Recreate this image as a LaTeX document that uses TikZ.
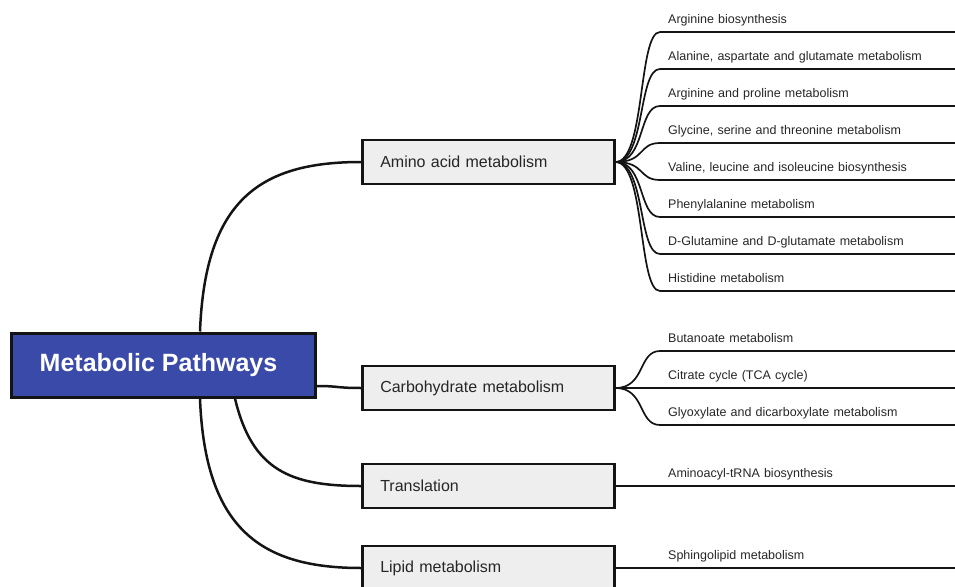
\documentclass[tikz,border=0pt]{standalone}
\usepackage{fontspec}
\setmainfont{Liberation Sans}
\definecolor{rootblue}{RGB}{58,74,168}
\definecolor{boxgray}{RGB}{238,238,238}
\definecolor{inkline}{RGB}{20,20,20}
\tikzset{
  rootbox/.style={draw=inkline, line width=3pt, fill=rootblue, text=white,
    font=\fontsize{25}{29}\selectfont\bfseries, minimum width=304pt,
    minimum height=64pt, inner sep=0pt},
  topicbox/.style={draw=inkline, line width=2.5pt, fill=boxgray, text=black!85,
    font=\fontsize{16}{19}\selectfont, text width=216pt, inner xsep=18pt,
    minimum height=44pt, align=left, anchor=west},
  leafitem/.style={anchor=south west, font=\fontsize{12.5}{15}\selectfont,
    text=black!85, text width=300pt, inner xsep=8pt, inner ysep=5.5pt, text depth=3pt},
  trunk/.style={draw=inkline, line width=2.5pt},
  twig/.style={draw=inkline, line width=1.7pt}
}
\begin{document}
\begin{tikzpicture}[x=1pt,y=-1pt]
  \useasboundingbox (0,0) rectangle (955,586);
  % main topic and the four groups
  \node[rootbox] (root) at (163,365) {\hspace*{-9pt}Metabolic Pathways};
  \node[topicbox] (amino) at (361,162) {Amino acid metabolism};
  \node[topicbox] (carb) at (361,388) {Carbohydrate metabolism};
  \node[topicbox] (transl) at (361,486) {Translation};
  \node[topicbox] (lipid) at (361,568) {Lipid metabolism};
  \draw[trunk] ([xshift=37pt]root.north) .. controls (205,200) and (260,162) .. (amino.west);
  \draw[trunk] ([yshift=-21pt]root.east) .. controls (340,386) and (335,388) .. (carb.west);
  \draw[trunk] ([xshift=72pt]root.south) .. controls (252,470) and (290,486) .. (transl.west);
  \draw[trunk] ([xshift=37pt]root.south) .. controls (205,530) and (262,568) .. (lipid.west);
  % amino acid pathways
  \node[leafitem] (a1) at (660,32) {Arginine biosynthesis};
  \node[leafitem] (a2) at (660,69) {Alanine, aspartate and glutamate metabolism};
  \node[leafitem] (a3) at (660,106) {Arginine and proline metabolism};
  \node[leafitem] (a4) at (660,143) {Glycine, serine and threonine metabolism};
  \node[leafitem] (a5) at (660,180) {Valine, leucine and isoleucine biosynthesis};
  \node[leafitem] (a6) at (660,217) {Phenylalanine metabolism};
  \node[leafitem] (a7) at (660,254) {D-Glutamine and D-glutamate metabolism};
  \node[leafitem] (a8) at (660,291) {Histidine metabolism};
  \draw[twig] (amino.east) .. controls +(30,0) and +(-22,0) .. (a1.south west) -- (a1.south east);
  \draw[twig] (amino.east) .. controls +(30,0) and +(-22,0) .. (a2.south west) -- (a2.south east);
  \draw[twig] (amino.east) .. controls +(30,0) and +(-22,0) .. (a3.south west) -- (a3.south east);
  \draw[twig] (amino.east) .. controls +(30,0) and +(-22,0) .. (a4.south west) -- (a4.south east);
  \draw[twig] (amino.east) .. controls +(30,0) and +(-22,0) .. (a5.south west) -- (a5.south east);
  \draw[twig] (amino.east) .. controls +(30,0) and +(-22,0) .. (a6.south west) -- (a6.south east);
  \draw[twig] (amino.east) .. controls +(30,0) and +(-22,0) .. (a7.south west) -- (a7.south east);
  \draw[twig] (amino.east) .. controls +(30,0) and +(-22,0) .. (a8.south west) -- (a8.south east);
  % carbohydrate pathways
  \node[leafitem] (c1) at (660,351) {Butanoate metabolism};
  \node[leafitem] (c2) at (660,388) {Citrate cycle (TCA cycle)};
  \node[leafitem] (c3) at (660,425) {Glyoxylate and dicarboxylate metabolism};
  \draw[twig] (carb.east) .. controls +(30,0) and +(-22,0) .. (c1.south west) -- (c1.south east);
  \draw[twig] (carb.east) -- (c2.south west) -- (c2.south east);
  \draw[twig] (carb.east) .. controls +(30,0) and +(-22,0) .. (c3.south west) -- (c3.south east);
  % translation and lipid
  \node[leafitem] (t1) at (660,486) {Aminoacyl-tRNA biosynthesis};
  \node[leafitem] (l1) at (660,568) {Sphingolipid metabolism};
  \draw[twig] (transl.east) -- (t1.south west) -- (t1.south east);
  \draw[twig] (lipid.east) -- (l1.south west) -- (l1.south east);
\end{tikzpicture}
\end{document}
